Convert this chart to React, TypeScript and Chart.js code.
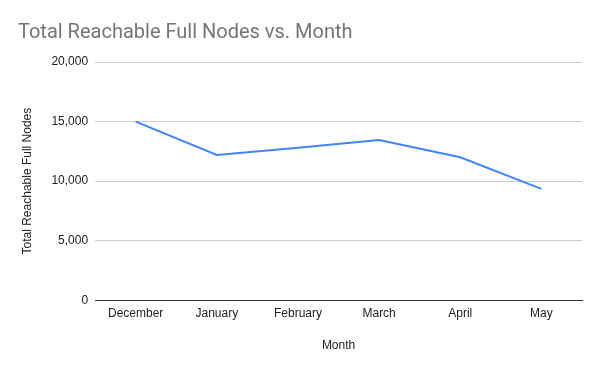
import React, { useEffect, useRef } from "react";
import { Chart, registerables } from "chart.js";

Chart.register(...registerables);

const months = ["December", "January", "February", "March", "April", "May"];
const nodes = [15000, 12200, 12800, 13450, 12000, 9350];
const yTicks = [0, 5000, 10000, 15000, 20000];

export default function App() {
  const ref = useRef<HTMLCanvasElement>(null);
  useEffect(() => {
    document.body.style.margin = "0";
    const chart = new Chart(ref.current!, {
      type: "line",
      data: {
        labels: months,
        datasets: [
          {
            label: "Total Reachable Full Nodes",
            data: nodes,
            borderColor: "#4285f4",
            backgroundColor: "#4285f4",
            borderWidth: 2,
            pointRadius: 0,
            tension: 0,
          },
        ],
      },
      options: {
        animation: false,
        responsive: false,
        layout: { padding: { left: 18, right: 18, top: 0, bottom: 18 } },
        plugins: {
          legend: { display: false },
          tooltip: { enabled: false },
          title: {
            display: true,
            text: "Total Reachable Full Nodes vs. Month",
            align: "start",
            color: "#757575",
            font: { family: "Roboto, Arial", size: 20, weight: "normal" },
            padding: { top: 21, bottom: 17 },
          },
        },
        scales: {
          x: {
            offset: true,
            grid: { display: false, drawTicks: false },
            border: { display: true, color: "#333333", width: 1 },
            ticks: { color: "#222222", font: { family: "Arial", size: 12 }, padding: 6 },
            title: {
              display: true,
              text: "Month",
              color: "#222222",
              font: { family: "Arial", size: 12 },
              padding: { top: 12, bottom: 0 },
            },
          },
          y: {
            min: 0,
            max: 20000,
            afterBuildTicks: (axis: any) => {
              axis.ticks = yTicks.map((v) => ({ value: v }));
            },
            grid: { color: "#cccccc", drawTicks: false },
            border: { display: false },
            ticks: {
              color: "#222222",
              font: { family: "Arial", size: 12 },
              padding: 7,
              callback: (v: any) => Number(v).toLocaleString("en-US"),
            },
            title: {
              display: true,
              text: "Total Reachable Full Nodes",
              color: "#222222",
              font: { family: "Arial", size: 12 },
              padding: { top: 2, bottom: 10 },
            },
          },
        },
      },
    });
    return () => chart.destroy();
  }, []);
  return <canvas ref={ref} width={600} height={371} style={{ display: "block" }} />;
}
